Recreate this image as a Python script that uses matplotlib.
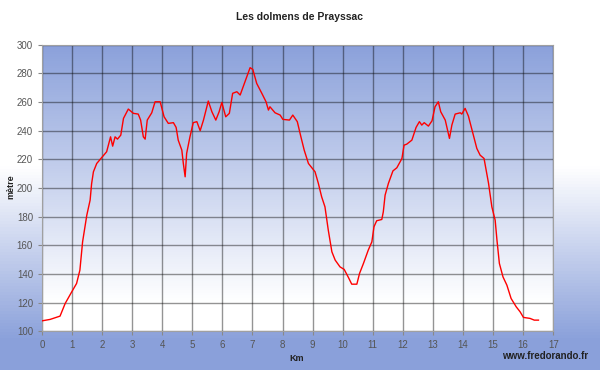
import numpy as np
import matplotlib
matplotlib.use("Agg")
from matplotlib import pyplot as plt

plt.rcParams['font.family'] = ['Liberation Sans', 'DejaVu Sans']

# distance (km) and altitude (m)
km = [0.0, 0.27, 0.6, 0.77, 0.99, 1.15, 1.26, 1.35, 1.49, 1.6, 1.65, 1.71, 1.82,
      1.99, 2.15, 2.28, 2.35, 2.43, 2.51, 2.62, 2.71, 2.87, 3.04, 3.2, 3.28, 3.37,
      3.43, 3.5, 3.65, 3.76, 3.93, 4.06, 4.2, 4.37, 4.46, 4.53, 4.65, 4.7, 4.76,
      4.81, 4.92, 5.03, 5.15, 5.26, 5.37, 5.53, 5.65, 5.78, 5.89, 5.98, 6.11, 6.23,
      6.34, 6.48, 6.59, 6.75, 6.92, 7.01, 7.14, 7.31, 7.45, 7.53, 7.58, 7.75, 7.92,
      8.01, 8.23, 8.34, 8.49, 8.61, 8.72, 8.86, 9.08, 9.19, 9.3, 9.41, 9.52, 9.64,
      9.75, 9.91, 10.05, 10.19, 10.3, 10.47, 10.56, 10.69, 10.85, 10.97, 11.04,
      11.13, 11.3, 11.35, 11.41, 11.52, 11.67, 11.8, 11.97, 12.04, 12.13, 12.3,
      12.44, 12.55, 12.63, 12.71, 12.85, 12.97, 13.07, 13.18, 13.26, 13.41, 13.55,
      13.63, 13.74, 13.91, 13.96, 14.07, 14.18, 14.33, 14.46, 14.57, 14.7, 14.85,
      14.96, 15.07, 15.13, 15.21, 15.33, 15.46, 15.6, 15.77, 15.9, 16.01, 16.23,
      16.37, 16.51]
alt = [107.2, 108.2, 110.5, 119.3, 127.5, 133.3, 142.6, 162.4, 181.0, 191.5, 203.0,
       211.3, 217.1, 221.3, 225.3, 235.7, 229.2, 235.7, 234.1, 236.9, 248.6, 255.1,
       252.1, 251.6, 247.4, 235.7, 234.1, 247.4, 252.5, 260.2, 260.2, 249.7, 245.1,
       245.6, 242.3, 233.4, 226.4, 217.1, 207.8, 224.1, 235.7, 245.6, 246.3, 240.0,
       247.4, 260.7, 253.2, 247.4, 253.2, 259.7, 249.7, 252.1, 266.1, 267.2, 264.9,
       274.2, 284.0, 282.8, 273.0, 266.1, 260.2, 254.4, 256.7, 252.5, 250.9, 247.9,
       247.4, 250.9, 246.3, 235.7, 226.4, 217.1, 211.3, 203.2, 193.8, 186.8, 170.6,
       155.4, 149.6, 144.9, 143.1, 137.5, 132.8, 132.8, 140.3, 147.3, 156.6, 162.4,
       172.9, 177.1, 178.0, 183.3, 195.0, 203.2, 211.9, 214.1, 220.6, 229.9, 230.6,
       233.4, 242.3, 246.3, 243.9, 245.6, 243.2, 246.9, 256.7, 260.2, 253.2, 247.4,
       234.6, 243.9, 251.6, 252.5, 251.6, 255.6, 250.2, 238.1, 227.6, 222.9, 220.6,
       203.2, 186.8, 177.5, 163.5, 147.3, 137.9, 132.1, 122.8, 117.0, 113.5, 109.6,
       108.9, 107.7, 107.7]

blue = np.array([138, 160, 218]) / 255.0
white = np.array([1.0, 1.0, 1.0])

fig = plt.figure(figsize=(6, 3.7), dpi=100)

# figure background: white at top, blue towards the bottom
n = 120
for i in range(n):
    t = (i + 0.5) / n            # 0 = top, 1 = bottom
    w = np.clip((t - 0.45) / 0.47, 0, 1)
    c = white * (1 - w) + blue * w
    fig.patches.append(plt.Rectangle((0, 1 - (i + 1) / n), 1, 1.0 / n + 0.002,
                                     transform=fig.transFigure, color=c,
                                     lw=0, zorder=-10))

ax = fig.add_axes([0.07, 0.105, 0.852, 0.774])
# plot area: blue at top fading to white at bottom
for i in range(n):
    t = (i + 0.5) / n
    w = np.clip(t / 0.9, 0, 1)
    c = blue * (1 - w) + white * w
    ax.axhspan(300 - 200 * (i + 1) / n, 300 - 200 * i / n + 0.1,
               color=c, lw=0, zorder=0)

ax.plot(km, alt, color='#ff0000', lw=1, zorder=3)

ax.set_xlim(0, 17)
ax.set_ylim(100, 300)
ax.set_xticks(range(0, 18))
ax.set_yticks(range(100, 301, 20))
ax.grid(True, color='#000000', lw=1, alpha=0.42, zorder=1)
for sp in ax.spines.values():
    sp.set_color('#a0a0a0')
ax.tick_params(labelsize=7, colors='#888888', labelcolor='#555555',
               length=3, width=0.8)

fig.text(0.5, 0.955, 'Les dolmens de Prayssac', ha='center', va='center',
         fontsize=7.5, fontweight='bold', color='#222222')
fig.text(0.018, 0.495, 'mètre', ha='center', va='center', rotation=90,
         fontsize=6.5, fontweight='bold', color='#222222')
fig.text(0.495, 0.03, 'Km', ha='center', va='center',
         fontsize=6.5, fontweight='bold', color='#222222')
fig.text(0.98, 0.038, 'www.fredorando.fr', ha='right', va='center',
         fontsize=7, fontweight='bold', color='#222222')

fig.savefig('out.png', dpi=100)
